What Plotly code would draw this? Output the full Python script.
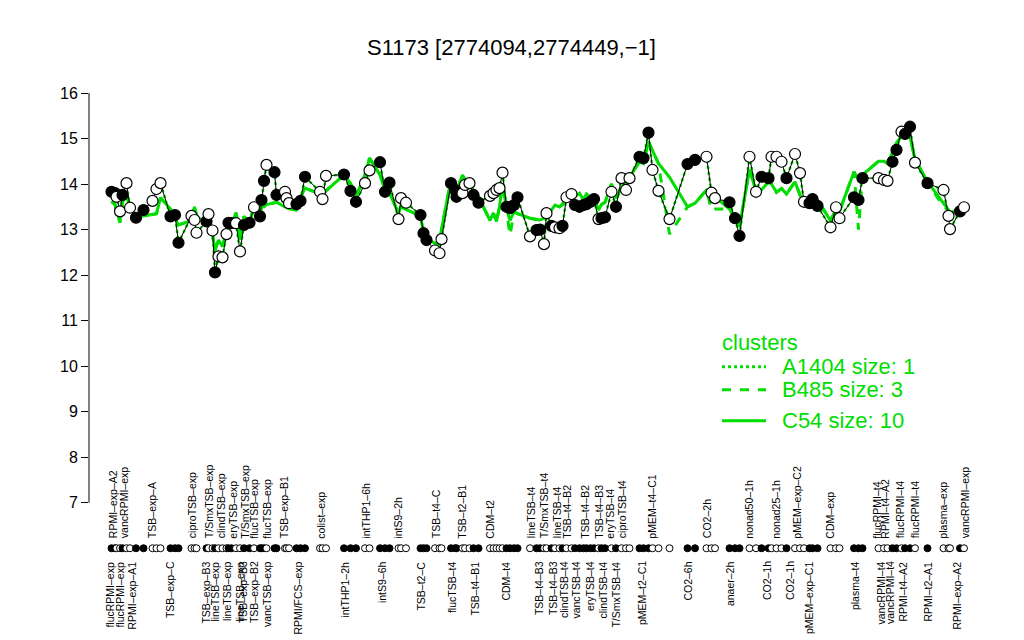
import plotly.graph_objects as go

# ---------------- data ----------------
pos = [2.3, 3.0, 3.3, 4.0, 4.5, 5.3, 6.0, 7.2, 8.7, 10.5, 11.3, 12.1, 14.1, 15.0, 15.7,
       18.3, 18.9, 19.3, 21.3, 21.7, 22.5, 23.0, 23.7, 24.5, 25.3, 25.7, 26.3, 27.2, 28.0,
       28.8, 29.9, 30.8, 32.0, 32.3, 32.8, 33.3, 34.9, 35.3, 37.0, 37.3, 37.8, 39.3, 40.1,
       41.0, 44.0, 44.5, 45.2, 48.8, 50.1, 51.2, 53.0, 53.9, 56.0, 57.0, 57.9, 59.7, 60.2,
       61.2, 64.1, 64.7, 65.3, 67.0, 67.9, 68.3, 70.2, 71.0, 71.3, 72.5, 73.0, 73.9, 74.7,
       75.7, 78.0, 78.7, 79.3, 79.9, 80.5, 81.3, 82.0, 82.8, 83.5, 86.0, 87.3, 88.0, 88.8,
       89.3, 90.3, 91.0, 91.9, 92.5, 93.3, 94.3, 95.0, 95.9, 96.7, 97.3, 98.1, 98.8, 99.7,
       100.3, 101.0, 102.3, 103.2, 104.3, 105.2, 105.9, 107.9, 108.7, 109.7, 110.5, 111.7,
       113.9, 117.5, 119.0, 121.3, 122.3, 123.0, 125.9, 127.0, 127.9, 129.9, 131.2, 132.3,
       133.7, 134.3, 135.3, 136.3, 137.3, 139.0, 140.0, 140.8, 141.9, 142.5, 143.5, 146.1,
       147.2, 147.9, 150.8, 151.7, 152.5, 155.7, 156.8, 157.5, 158.5, 159.3, 160.3, 161.0,
       162.0, 163.0, 165.5, 168.7, 169.7, 170.0, 172.0, 172.8]

expr = [13.83, 13.80, 13.72, 13.40, 13.76, 14.02, 13.48, 13.26, 13.43, 13.63, 13.89, 14.02,
        13.29, 13.32, 12.71, 13.30, 13.21, 12.93, 13.18, 13.34, 12.98, 12.06, 12.41, 12.39,
        12.90, 13.15, 13.14, 13.14, 12.52, 13.10, 13.15, 13.49, 13.29, 13.65, 14.07, 14.42,
        14.26, 13.76, 13.83, 13.69, 13.58, 13.56, 13.63, 14.16, 13.83, 13.67, 14.18, 14.21,
        13.85, 13.61, 14.02, 14.30, 14.48, 13.83, 14.03, 13.23, 13.69, 13.59, 13.32, 12.92,
        12.77, 12.54, 12.48, 12.79, 14.02, 13.87, 13.72, 13.80, 13.98, 14.02, 13.76, 13.59,
        13.74, 13.80, 13.87, 13.91, 14.25, 13.50, 13.47, 13.54, 13.71, 12.85, 12.99, 13.00,
        12.68, 13.36, 13.08, 13.05, 13.03, 13.08, 13.71, 13.78, 13.54, 13.50, 13.54, 13.56,
        13.61, 13.67, 13.23, 13.25, 13.27, 13.83, 13.50, 14.13, 13.87, 14.13, 14.60, 14.57,
        15.13, 14.31, 13.85, 13.23, 14.44, 14.53, 14.60, 13.81, 13.69, 13.60, 13.25, 12.86,
        14.60, 13.83, 14.16, 14.13, 14.60, 14.60, 14.49, 14.13, 14.66, 14.24, 13.61, 13.58,
        13.67, 13.52, 13.05, 13.49, 13.25, 13.71, 13.65, 14.13, 14.13, 14.09, 14.07, 14.49,
        14.75, 15.15, 15.10, 15.26, 14.47, 14.02, 13.87, 13.30, 13.01, 13.40, 13.49]

filled = [1, 1, 0, 0, 1, 0, 0, 1, 1, 0, 0, 0, 1, 1, 1, 0, 0, 0, 1, 0, 0, 1, 0, 0, 0, 1, 1, 0,
          0, 1, 1, 0, 1, 1, 1, 0, 1, 1, 0, 0, 0, 1, 1, 1, 0, 0, 0, 1, 1, 1, 0, 0, 1, 1, 1, 0,
          0, 0, 1, 1, 1, 0, 0, 0, 1, 1, 1, 0, 0, 0, 1, 1, 0, 0, 0, 0, 0, 1, 1, 1, 1, 0, 1, 1,
          0, 0, 1, 0, 0, 1, 0, 0, 1, 1, 1, 1, 1, 1, 0, 1, 1, 0, 1, 0, 0, 0, 1, 1, 1, 0, 0, 0,
          1, 1, 0, 0, 0, 1, 1, 1, 0, 0, 1, 1, 0, 0, 0, 1, 0, 0, 0, 1, 1, 1, 0, 0, 0, 1, 1, 1,
          0, 0, 0, 1, 1, 0, 1, 1, 0, 1, 0, 0, 0, 1, 0]

c54 = [13.62, 13.55, 13.40, 13.21, 13.60, 13.75, 13.50, 13.29, 13.30, 13.34, 13.35, 13.70,
       13.45, 13.25, 13.10, 13.20, 13.50, 13.30, 13.10, 13.20, 12.90, 12.55, 12.77, 12.63,
       12.95, 13.00, 13.10, 13.37, 12.77, 13.29, 13.15, 13.50, 13.35, 13.50, 13.50, 13.55,
       13.60, 13.60, 13.50, 13.48, 13.46, 13.43, 13.70, 13.91, 13.78, 13.76, 13.85, 14.20,
       14.02, 13.72, 14.20, 14.57, 14.20, 13.87, 13.80, 13.36, 13.50, 13.45, 13.29, 12.95,
       12.80, 12.70, 12.63, 13.00, 14.10, 13.90, 13.85, 14.20, 14.10, 14.00, 13.87, 13.72,
       13.20, 13.36, 13.18, 13.50, 14.02, 13.45, 13.20, 13.39, 13.35, 13.25, 13.22, 13.21,
       13.25, 13.29, 13.43, 13.54, 13.50, 13.55, 13.75, 13.78, 13.72, 13.80, 13.65, 13.78,
       13.70, 13.69, 13.43, 13.55, 13.60, 14.00, 13.69, 13.91, 14.05, 14.15, 14.49, 14.45,
       14.93, 14.75, 14.45, 14.15, 13.50, 13.58, 13.87, 13.78, 13.72, 13.45, 13.25, 13.07,
       14.31, 13.85, 13.87, 14.05, 14.00, 13.82, 13.90, 13.78, 14.05, 13.76, 13.62, 13.60,
       13.65, 13.65, 13.20, 13.43, 13.40, 14.27, 14.10, 14.20, 14.50, 14.50, 14.45, 14.72,
       14.90, 15.05, 15.15, 15.04, 14.55, 14.05, 13.58, 13.43, 13.35, 13.50, 13.55]

b485 = [13.62, 13.55, 13.40, 13.15, 13.60, 13.75, 13.50, 13.29, 13.30, 13.34, 13.35, 13.70,
        13.45, 13.25, 13.10, 13.20, 13.55, 13.30, 13.10, 13.20, 12.90, 12.55, 12.77, 12.63,
        12.95, 13.00, 13.10, 13.37, 12.95, 13.29, 13.15, 13.50, 13.35, 13.50, 13.50, 13.55,
        13.60, 13.60, 13.50, 13.48, 13.46, 13.43, 13.70, 13.91, 13.78, 13.76, 13.85, 14.20,
        14.02, 13.72, 14.20, 14.57, 14.20, 13.87, 13.80, 13.36, 13.50, 13.45, 13.29, 12.95,
        12.80, 12.70, 12.63, 13.00, 14.10, 13.90, 13.85, 14.20, 14.10, 14.00, 13.87, 13.72,
        13.20, 13.36, 13.18, 13.50, 14.02, 13.45, 12.88, 13.39, 13.35, 13.25, 13.22, 13.21,
        13.25, 13.29, 13.43, 13.54, 13.50, 13.55, 13.75, 13.78, 13.72, 13.80, 13.65, 13.78,
        13.70, 13.69, 13.43, 13.55, 13.60, 14.00, 13.69, 13.91, 14.05, 14.15, 14.49, 14.45,
        14.93, 14.75, 14.45, 12.90, 13.50, 13.58, 13.87, 13.42, 13.45, 13.45, 13.25, 13.07,
        14.31, 13.85, 13.87, 14.05, 14.00, 13.82, 13.90, 13.78, 14.05, 13.76, 13.62, 13.60,
        13.65, 13.65, 13.20, 13.43, 13.40, 14.27, 13.00, 14.20, 14.50, 14.50, 14.45, 14.72,
        14.90, 15.05, 15.15, 15.04, 14.55, 14.05, 13.50, 13.43, 13.35, 13.50, 13.55]

top_labels = ["RPMI\u2013exp\u2013A2", "vancRPMI\u2013exp", "TSB\u2013exp\u2013A", "ciproTSB\u2013exp",
              "T/SmxTSB\u2013exp", "clindTSB\u2013exp", "eryTSB\u2013exp", "T/SmxTSB\u2013exp",
              "flucTSB\u2013exp", "flucTSB\u2013exp", "TSB\u2013exp\u2013B1", "colist\u2013exp",
              "intTHP1\u20136h", "intS9\u20132h", "TSB\u2013t4\u2013C", "TSB\u2013t2\u2013B1", "CDM\u2013t2",
              "lineTSB\u2013t4", "T/SmxTSB\u2013t4", "lineTSB\u2013t4", "TSB\u2013t4\u2013B2",
              "TSB\u2013t4\u2013B2", "TSB\u2013t4\u2013B3", "eryTSB\u2013t4", "ciproTSB\u2013t4",
              "pMEM\u2013t4\u2013C1", "CO2\u20132h", "nonad50\u20131h", "nonad25\u20131h",
              "pMEM\u2013exp\u2013C2", "CDM\u2013exp", "flucRPMI\u2013t4", "RPMI\u2013t4\u2013A2",
              "flucRPMI\u2013t4", "flucRPMI\u2013t4", "plasma\u2013exp", "vancRPMI\u2013exp"]
top_pos = [2.5, 4.8, 10.3, 18.3, 21.7, 24.2, 26.6, 29.0, 30.8, 33.4, 36.7, 44.3, 53.2, 59.6,
           67.2, 72.4, 78.1, 86.1, 88.7, 91.3, 93.4, 97.0, 99.8, 102.0, 104.3, 110.4, 121.4,
           129.9, 135.3, 139.5, 146.1, 155.5, 157.0, 160.0, 163.0, 168.7, 173.0]

bottom_labels = ["flucRPMI\u2013exp", "flucRPMI\u2013exp", "RPMI\u2013exp\u2013A1", "TSB\u2013exp\u2013C",
                 "TSB\u2013exp\u2013B3", "lineTSB\u2013exp", "lineTSB\u2013exp", "lineTSB\u2013exp",
                 "TSB\u2013exp\u2013B3", "TSB\u2013exp\u2013B2", "vancTSB\u2013exp", "RPMI/FCS\u2013exp",
                 "intTHP1\u20132h", "intS9\u20136h", "TSB\u2013t2\u2013C", "flucTSB\u2013t4",
                 "TSB\u2013t4\u2013B1", "CDM\u2013t4", "TSB\u2013t4\u2013B3", "TSB\u2013t4\u2013B3",
                 "clindTSB\u2013t4", "vancTSB\u2013t4", "eryTSB\u2013t4", "clindTSB\u2013t4",
                 "T/SmxTSB\u2013t4", "pMEM\u2013t2\u2013C1", "CO2\u20136h", "anaer\u20132h", "CO2\u20131h",
                 "CO2\u20131h", "pMEM\u2013exp\u2013C1", "plasma\u2013t4", "vancRPMI\u2013t4",
                 "vancRPMI\u2013t4", "RPMI\u2013t4\u2013A2", "RPMI\u2013t2\u2013A1", "RPMI\u2013exp\u2013A2"]
bottom_pos = [2.0, 4.0, 6.4, 14.0, 21.2, 23.0, 25.3, 28.0, 28.5, 30.7, 33.3, 39.7, 49.0, 56.3,
              64.3, 70.3, 75.0, 81.3, 87.7, 90.5, 92.8, 95.3, 97.9, 100.7, 103.2, 108.3, 117.7,
              126.0, 133.4, 138.0, 141.8, 151.0, 156.3, 158.0, 160.6, 165.6, 171.4]

legend_names = ["A1404 size: 1", "B485 size: 3", "C54 size: 10"]
legend_dash = ["dot", "dash", "solid"]

title = "S1173 [2774094,2774449,\u22121]"
y_ticks = list(range(7, 17))
rug_level = 6.0

GREEN = "#00dd00"
FONT = "Liberation Sans, Arial, sans-serif"

# page geometry helpers (page has an 8px body margin)
L, T, W, H = 81, 85, 886, 478.4     # plot area inside the figure
def px_x(p):
    return (p - 8 - L) / W
def px_y(p):
    return (T + H + 8 - p) / H

# ---------------- figure ----------------
fig = go.Figure()

fig.add_trace(go.Scatter(x=pos, y=expr, mode="lines",
                         line=dict(color=GREEN, width=2.5, dash="dot"), hoverinfo="skip"))
fig.add_trace(go.Scatter(x=pos, y=b485, mode="lines",
                         line=dict(color=GREEN, width=3, dash="dash"), hoverinfo="skip"))
fig.add_trace(go.Scatter(x=pos, y=c54, mode="lines",
                         line=dict(color=GREEN, width=3), hoverinfo="skip"))
fig.add_trace(go.Scatter(x=pos, y=expr, mode="lines",
                         line=dict(color="black", width=1), hoverinfo="skip"))

fills = ["black" if f else "white" for f in filled]
fig.add_trace(go.Scatter(x=pos, y=expr, mode="markers",
                         marker=dict(size=11, color=fills, line=dict(color="black", width=1.2))))
# rug of samples below the axis
fig.add_trace(go.Scatter(x=pos, y=[rug_level] * len(pos), mode="markers",
                         marker=dict(size=7, color=fills, line=dict(color="black", width=1))))

for lab, p in zip(top_labels, top_pos):
    fig.add_annotation(x=p, y=px_y(541), xref="x", yref="paper", text=lab, textangle=-90,
                       showarrow=False, xanchor="center", yanchor="bottom",
                       font=dict(family=FONT, size=10.5, color="black"))
for lab, p in zip(bottom_labels, bottom_pos):
    fig.add_annotation(x=p, y=px_y(560), xref="x", yref="paper", text=lab, textangle=-90,
                       showarrow=False, xanchor="center", yanchor="top",
                       font=dict(family=FONT, size=10.5, color="black"))

# title
fig.add_annotation(x=px_x(511), y=px_y(47), xref="paper", yref="paper", text=title,
                   showarrow=False, xanchor="center", yanchor="middle",
                   font=dict(family=FONT, size=22, color="black"))

# y axis line (only from 7 to 16, as in R)
fig.add_shape(type="line", xref="paper", yref="y", x0=0, x1=0, y0=min(y_ticks), y1=max(y_ticks),
              line=dict(color="black", width=1))

# legend (drawn manually, R style)
fig.add_annotation(x=px_x(720), y=px_y(343), xref="paper", yref="paper",
                   text="clusters", showarrow=False, xanchor="left", yanchor="middle",
                   font=dict(family=FONT, size=22, color=GREEN))
for name, dash, yy in zip(legend_names, legend_dash, [367, 390, 421]):
    fig.add_shape(type="line", xref="paper", yref="paper",
                  x0=px_x(722), x1=px_x(766), y0=px_y(yy), y1=px_y(yy),
                  line=dict(color=GREEN, width=3, dash=dash))
    fig.add_annotation(x=px_x(780), y=px_y(yy), xref="paper", yref="paper", text=name,
                       showarrow=False, xanchor="left", yanchor="middle",
                       font=dict(family=FONT, size=22, color=GREEN))

fig.update_layout(
    width=1024, height=640,
    margin=dict(l=L, r=1024 - L - W, t=T, b=640 - T - H),
    paper_bgcolor="white", plot_bgcolor="white",
    showlegend=False,
    font=dict(family=FONT, color="black"),
    xaxis=dict(range=[-2.2, 175], showgrid=False, zeroline=False, showticklabels=False,
               ticks="", showline=False, automargin=False),
    yaxis=dict(range=[5.5, 16], tickvals=y_ticks, showgrid=False, zeroline=False,
               showline=False, ticks="outside", ticklen=7, automargin=False,
               tickcolor="black", tickfont=dict(family=FONT, size=16, color="black")),
)

fig.write_html("out.html")
